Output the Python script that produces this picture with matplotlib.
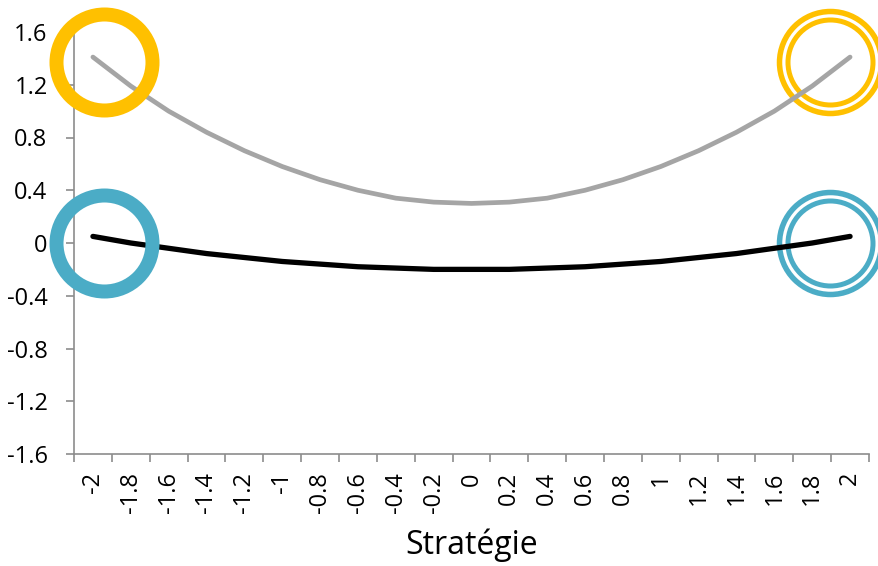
import matplotlib
matplotlib.use("Agg")
import matplotlib.pyplot as plt

categories = ["-2", "-1.8", "-1.6", "-1.4", "-1.2", "-1", "-0.8", "-0.6", "-0.4", "-0.2",
              "0", "0.2", "0.4", "0.6", "0.8", "1", "1.2", "1.4", "1.6", "1.8", "2"]
gray_values = [1.41, 1.19, 1.00, 0.84, 0.70, 0.58, 0.48, 0.40, 0.34, 0.31, 0.30,
               0.31, 0.34, 0.40, 0.48, 0.58, 0.70, 0.84, 1.00, 1.19, 1.41]
black_values = [0.05, 0.00, -0.04, -0.08, -0.11, -0.14, -0.16, -0.18, -0.19, -0.20, -0.20,
                -0.20, -0.19, -0.18, -0.16, -0.14, -0.11, -0.08, -0.04, 0.00, 0.05]
yticks = [-1.6, -1.2, -0.8, -0.4, 0, 0.4, 0.8, 1.2, 1.6]
ytick_labels = ["-1.6", "-1.2", "-0.8", "-0.4", "0", "0.4", "0.8", "1.2", "1.6"]

plt.rcParams['font.family'] = ['Open Sans', 'DejaVu Sans']

fig = plt.figure(figsize=(8.79, 5.66), dpi=100)
ax = fig.add_axes([74/879, 1-454/566, 795/879, 422/566])

x = list(range(len(categories)))
ax.plot(x, gray_values, color="#A5A5A5", lw=3.4, solid_capstyle="round",
        solid_joinstyle="round", zorder=3)
ax.plot(x, black_values, color="#000000", lw=3.8, solid_capstyle="round",
        solid_joinstyle="round", zorder=3)

px = 0.72  # points per pixel at dpi 100
orange = "#FFC000"
blue = "#4BACC6"
# left single thick rings
for yc, col in [(1.37, orange), (0.0, blue)]:
    ax.plot([0.29], [yc], marker="o", ms=2*48*px, mfc="none", mec=col, mew=14*px,
            clip_on=False, zorder=4)
# right double rings
for yc, col in [(1.37, orange), (0.0, blue)]:
    ax.plot([19.47], [yc], marker="o", ms=2*51*px, mfc="none", mec=col, mew=5.5*px,
            clip_on=False, zorder=2)
    ax.plot([19.47], [yc], marker="o", ms=2*42.5*px, mfc="none", mec=col, mew=5*px,
            clip_on=False, zorder=2)

ax.set_xlim(-0.5, len(categories)-0.5)
ax.set_ylim(-1.6, 1.6)
ax.set_yticks(yticks)
ax.set_yticklabels(ytick_labels, fontsize=17)
ax.set_xticks(x)
ax.set_xticklabels(categories, rotation=90, fontsize=17)
ax.set_xticks([i - 0.5 for i in range(len(categories)+1)], minor=True)
ax.tick_params(axis="x", which="major", length=0, pad=13)
ax.tick_params(axis="x", which="minor", length=6, color="#8C8C8C", width=1.2)
ax.tick_params(axis="y", length=6, color="#8C8C8C", width=1.2, pad=13)

for s in ["top", "right"]:
    ax.spines[s].set_visible(False)
for s in ["left", "bottom"]:
    ax.spines[s].set_color("#8C8C8C")
    ax.spines[s].set_linewidth(1.2)

ax.set_xlabel("Stratégie", fontsize=23, labelpad=11)

fig.savefig("out.png", dpi=100)
